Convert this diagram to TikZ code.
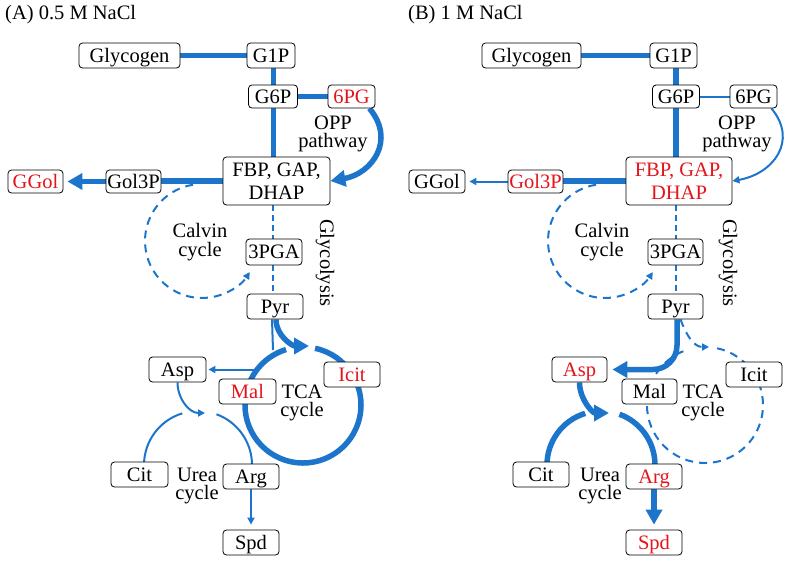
\documentclass[tikz,border=0pt]{standalone}
\usepackage{fontspec}
\setmainfont{Liberation Serif}
\usetikzlibrary{arrows.meta,calc}
\pgfdeclarelayer{bg}
\pgfsetlayers{bg,main}
\definecolor{pblue}{RGB}{28,117,203}
\definecolor{pred}{RGB}{228,20,28}
\newcommand\myfs{\fontsize{20.5}{23}\selectfont}
\newcommand\myfsl{\fontsize{20.5}{18.5}\selectfont}
\tikzset{
 box/.style={draw=black, line width=0.8pt, rounded corners=3.5pt, fill=white, inner sep=0pt, minimum height=25pt, align=center, font=\myfs},
 onel/.style={text height=15.5pt, text depth=2pt},
 lbl/.style={inner sep=0pt, align=center, font=\myfsl},
 thickl/.style={draw=pblue, line width=5.5pt},
 thinl/.style={draw=pblue, line width=2pt},
 dashl/.style={draw=pblue, line width=2pt, dash pattern=on 8pt off 6pt},
 glyl/.style={draw=pblue, line width=2pt, dash pattern=on 6pt off 4pt},
 bighead/.style={-{Triangle[length=15pt,width=16pt]}},
 smallhead/.style={-{Triangle[length=7pt,width=7pt]}},
}
\begin{document}
\begin{tikzpicture}[x=1pt,y=-1pt]
\useasboundingbox (0,0) rectangle (790,563);
% ================= Panel A =================
\begin{scope}
\node[anchor=west, inner sep=0pt, font=\myfs] (titleA) at (5,15) {(A) 0.5 M NaCl};
\node[box, onel, minimum width=101pt] (glyA) at (129.5,55.5) {Glycogen};
\node[box, onel, minimum width=48pt] (g1pA) at (271,55.5) {G1P};
\node[box, onel, minimum width=49pt, minimum height=23pt] (g6pA) at (273,96.5) {G6P};
\node[box, onel, minimum width=47pt, minimum height=23pt, text=pred] (pgA) at (351.5,96.5) {6PG};
\node[box, minimum width=107pt, minimum height=48pt] (fbpA) at (276.5,181) {FBP, GAP,\\DHAP};
\node[box, onel, minimum width=55pt, minimum height=23pt] (golA) at (133.5,181.5) {Gol3P};
\node[box, onel, minimum width=55pt, minimum height=23pt, text=pred] (ggolA) at (35.5,181.5) {GGol};
\node[box, onel, minimum width=56pt, minimum height=26pt] (pgaA) at (274,252) {3PGA};
\node[box, onel, minimum width=56pt] (pyrA) at (275,306.5) {Pyr};
\node[box, onel, minimum width=57pt] (aspA) at (177.5,369.5) {Asp};
\node[box, onel, minimum width=57pt, text=pred] (malA) at (247.5,391.5) {Mal};
\node[box, onel, minimum width=56pt, text=pred] (icitA) at (352,374.5) {Icit};
\node[box, onel, minimum width=57pt] (citA) at (139.5,474.5) {Cit};
\node[box, onel, minimum width=56pt] (argA) at (251,476.5) {Arg};
\node[box, onel, minimum width=56pt] (spdA) at (251,542.5) {Spd};
\node[lbl] (oppA) at (333,134) {OPP\\pathway};
\node[lbl] (calvinA) at (200,242) {Calvin\\cycle};
\node[lbl, rotate=-90] (glycA) at (325,263) {Glycolysis};
\node[lbl] (tcaAl) at (302,403) {TCA\\cycle};
\node[lbl] (ureaAl) at (197,486) {Urea\\cycle};
\begin{pgfonlayer}{bg}
\draw[thickl] (glyA.east) -- (g1pA.west);
\draw[thickl, line width=5pt] (g6pA.north |- g1pA.south) -- (g6pA.north);
\draw[thickl] (g6pA.east) -- (pgA.west);
\draw[thickl, line width=5pt] (g6pA.south) -- (g6pA.south |- fbpA.north);
\draw[thickl, bighead] ([xshift=-6pt]pgA.south east) to[out=-50, in=10, looseness=1.3] (fbpA.east);
\draw[thickl] (fbpA.west) -- (fbpA.west -| golA.east);
\draw[thickl, bighead, shorten >=4pt] (golA.west) -- (ggolA.east);
\draw[glyl] (g6pA.south |- fbpA.south) -- (g6pA.south |- pgaA.north);
\draw[glyl] (g6pA.south |- pgaA.south) -- (g6pA.south |- pyrA.north);
\coordinate (calvA) at (202,241);
\draw[dashl, smallhead] (calvA) ++(-99:57) arc[start angle=-99, end angle=-327, radius=57];
\coordinate (tcaA) at (303,405);
\draw[thickl] (tcaA) ++(-78:58) arc[start angle=-78, end angle=253, radius=58];
\coordinate (tcaAin) at (309,346);
\draw[thickl, bighead] ([xshift=1pt]pyrA.south) to[out=-90, in=180] (tcaAin);
\coordinate (tcaAj) at (273,350);
\draw[thinl] ([xshift=-3pt]pyrA.south) -- (tcaAj);
\coordinate (tcaAasp) at (258,369.5);
\draw[thinl, smallhead, shorten >=2pt] (tcaAasp) -- (aspA.east);
\coordinate (ureaA) at (198,465);
\draw[thinl] (ureaA) ++(180:54) arc[start angle=180, end angle=253, radius=54];
\coordinate (ureaAin) at (205,413);
\draw[thinl, smallhead] (aspA.south) to[out=-90, in=180] (ureaAin);
\draw[thinl] (ureaA) ++(-70:54) arc[start angle=-70, end angle=0, radius=54];
\draw[thinl, smallhead, shorten >=5pt] (argA.south) -- (spdA.north);
\end{pgfonlayer}
\end{scope}
% ================= Panel B =================
\begin{scope}[xshift=402pt]
\node[anchor=west, inner sep=0pt, font=\myfs] (titleB) at (6,15) {(B) 1 M NaCl};
\node[box, onel, minimum width=99pt] (glyB) at (129.5,55.5) {Glycogen};
\node[box, onel, minimum width=47pt] (g1pB) at (271.5,55.5) {G1P};
\node[box, onel, minimum width=47pt, minimum height=23pt] (g6pB) at (274,96.5) {G6P};
\node[box, onel, minimum width=47pt, minimum height=23pt] (pgB) at (351.5,96.5) {6PG};
\node[box, minimum width=106pt, minimum height=48pt, text=pred] (fbpB) at (277,181) {FBP, GAP,\\DHAP};
\node[box, onel, minimum width=55pt, minimum height=23pt, text=pred] (golB) at (133.5,181.5) {Gol3P};
\node[box, onel, minimum width=56pt, minimum height=23pt] (ggolB) at (35,181.5) {GGol};
\node[box, onel, minimum width=55pt, minimum height=26pt] (pgaB) at (273.5,252) {3PGA};
\node[box, onel, minimum width=55pt] (pyrB) at (273.5,306.5) {Pyr};
\node[box, onel, minimum width=55pt, text=pred] (aspB) at (177.5,369.5) {Asp};
\node[box, onel, minimum width=55pt] (malB) at (247.5,391.5) {Mal};
\node[box, onel, minimum width=56pt] (icitB) at (352,374.5) {Icit};
\node[box, onel, minimum width=56pt] (citB) at (139,474.5) {Cit};
\node[box, onel, minimum width=56pt, text=pred] (argB) at (252,476.5) {Arg};
\node[box, onel, minimum width=56pt, text=pred] (spdB) at (252,542.5) {Spd};
\node[lbl] (oppB) at (335,134) {OPP\\pathway};
\node[lbl] (calvinB) at (200,242) {Calvin\\cycle};
\node[lbl, rotate=-90] (glycB) at (326,263) {Glycolysis};
\node[lbl] (tcaBl) at (301,403) {TCA\\cycle};
\node[lbl] (ureaBl) at (198,486) {Urea\\cycle};
\begin{pgfonlayer}{bg}
\draw[thickl] (glyB.east) -- (g1pB.west);
\draw[thickl] (g6pB.north |- g1pB.south) -- (g6pB.north);
\draw[thinl] (g6pB.east) -- (pgB.west);
\draw[thickl] (g6pB.south) -- (g6pB.south |- fbpB.north);
\draw[thinl, smallhead] ([xshift=-6pt]pgB.south east) to[out=-50, in=10, looseness=1.3] (fbpB.east);
\draw[thickl] (fbpB.west) -- (fbpB.west -| golB.east);
\draw[thinl, smallhead, shorten >=4pt] (golB.west) -- (ggolB.east);
\draw[glyl] (g6pB.south |- fbpB.south) -- (g6pB.south |- pgaB.north);
\draw[glyl] (g6pB.south |- pgaB.south) -- (g6pB.south |- pyrB.north);
\coordinate (calvB) at (203,241);
\draw[dashl, smallhead] (calvB) ++(-99:57) arc[start angle=-99, end angle=-327, radius=57];
\coordinate (tcaB) at (303,405);
\draw[dashl] (tcaB) ++(-78:58) arc[start angle=-78, end angle=253, radius=58];
\coordinate (tcaBin) at (307,347);
\draw[dashl, smallhead] ([xshift=5pt]pyrB.south) to[out=-70, in=180] (tcaBin);
\draw[thickl, bighead, rounded corners=24pt, shorten >=5pt] ([xshift=1.5pt]pyrB.south) |- (aspB.east);
\coordinate (ureaB) at (199,465);
\draw[thickl] (ureaB) ++(180:54) arc[start angle=180, end angle=253, radius=54];
\coordinate (ureaBin) at (207,413);
\draw[thickl, bighead] (aspB.south) to[out=-90, in=180] (ureaBin);
\draw[thickl] (ureaB) ++(-70:54) arc[start angle=-70, end angle=0, radius=54];
\draw[thickl, bighead, shorten >=5pt] (argB.south) -- (spdB.north);
\end{pgfonlayer}
\end{scope}
\end{tikzpicture}
\end{document}
